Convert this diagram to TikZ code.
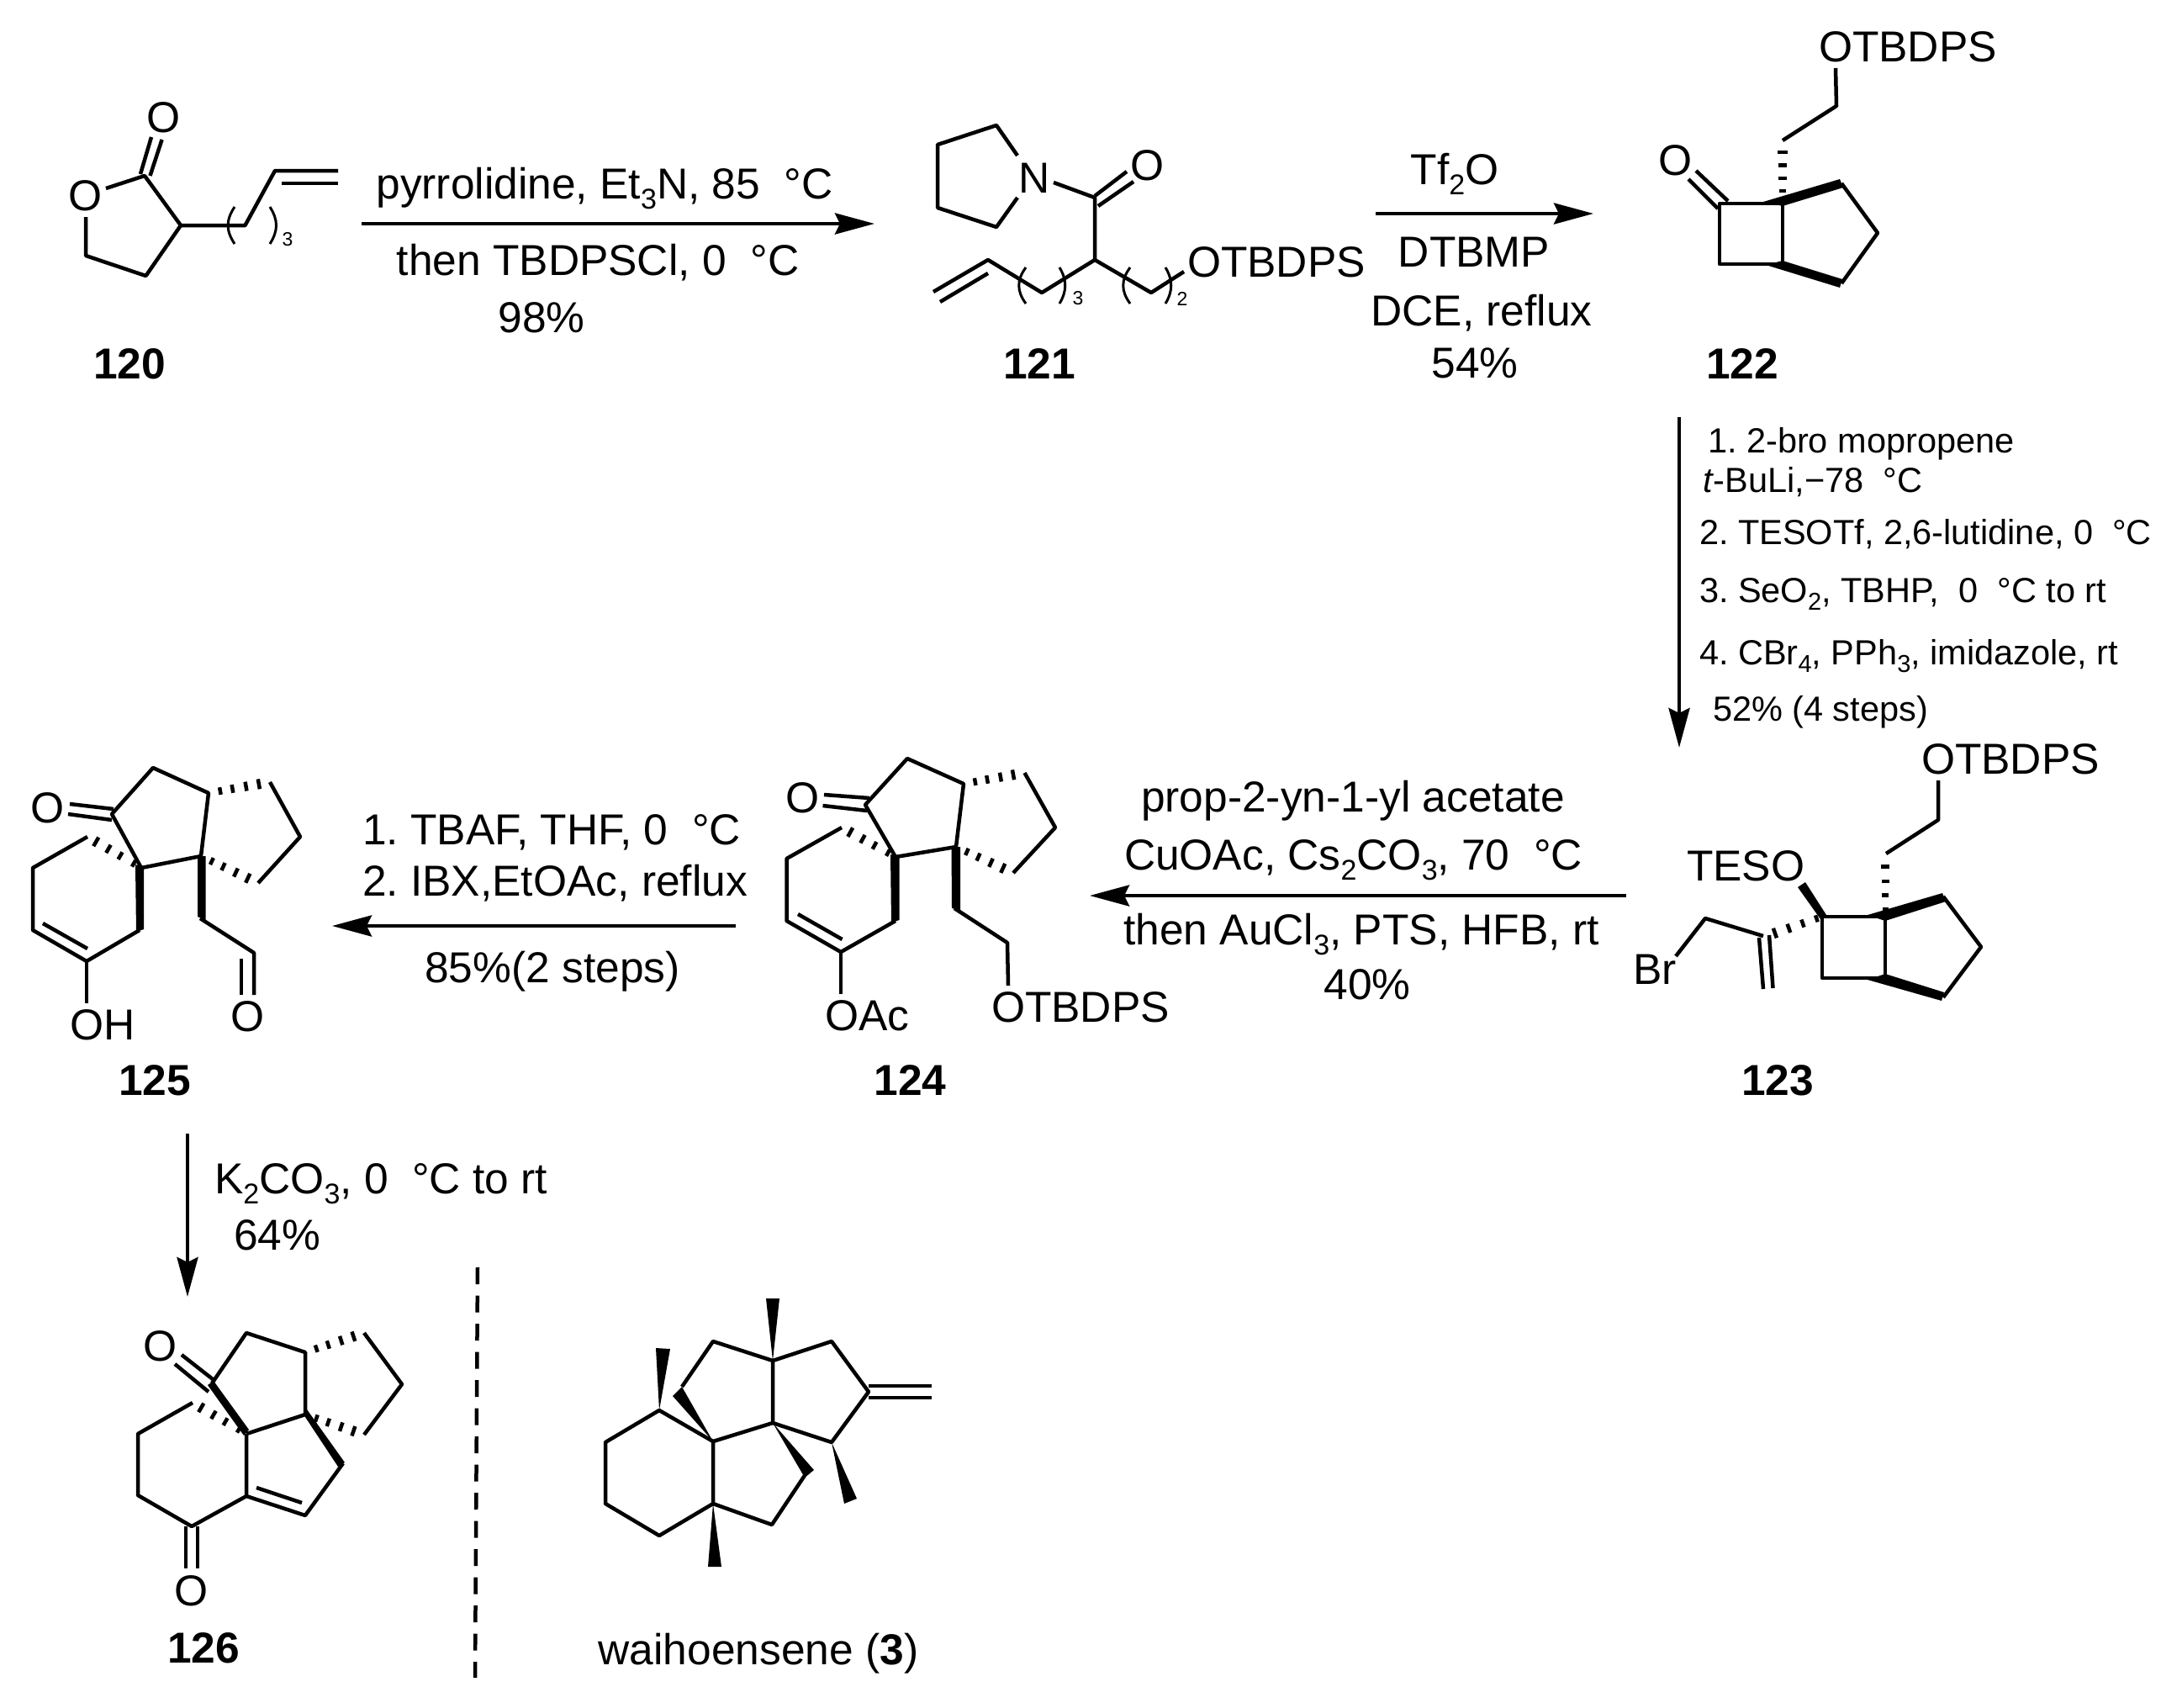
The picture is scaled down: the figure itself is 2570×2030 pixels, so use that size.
\documentclass[tikz,border=0pt]{standalone}
\usepackage{fontspec}
\setmainfont{Liberation Sans}
\usetikzlibrary{arrows.meta}
\frenchspacing
\newcommand{\sba}[1]{\raisebox{-12pt}{\fontsize{34}{34}\selectfont #1}}
\newcommand{\sbb}[1]{\raisebox{-9pt}{\fontsize{29}{29}\selectfont #1}}
% hashed bond: narrow end x1 y1, wide end x2 y2, half width, fractions
\newcommand{\hashbond}[6]{%
  \foreach \f in {#6}{%
    \pgfmathsetmacro\hdx{#3-#1}%
    \pgfmathsetmacro\hdy{#4-#2}%
    \pgfmathsetmacro\hlen{veclen(\hdx,\hdy)}%
    \pgfmathsetmacro\hpx{#1+\f*\hdx}%
    \pgfmathsetmacro\hpy{#2+\f*\hdy}%
    \pgfmathsetmacro\hw{#5*(0.6+0.4*\f)}%
    \pgfmathsetmacro\hnx{-\hdy/\hlen*\hw}%
    \pgfmathsetmacro\hny{\hdx/\hlen*\hw}%
    \draw[hashline] (\hpx+\hnx,\hpy+\hny) -- (\hpx-\hnx,\hpy-\hny);
  }%
}
\tikzset{
  bond/.style={line width=4.5pt,line join=round,draw=black},
  thin bond/.style={line width=3pt,draw=black},
  hashline/.style={line width=4.5pt,draw=black},
  wedgebond/.style={fill=black,draw=none},
  rxn/.style={line width=4.5pt,draw=black,-{Stealth[length=47pt,width=25pt,inset=6pt]}},
  txt/.style={inner sep=0pt,outer sep=0pt,anchor=base,font=\fontsize{51.5}{60}\selectfont},
  txtl/.style={txt,anchor=base west},
  atom/.style={inner sep=0pt,outer sep=0pt,anchor=center,font=\fontsize{51.5}{60}\selectfont},
  small/.style={inner sep=0pt,outer sep=0pt,anchor=center,font=\fontsize{23}{26}\selectfont},
  step text/.style={inner sep=0pt,outer sep=0pt,anchor=base west,font=\fontsize{41.5}{50}\selectfont},
  cmpd/.style={txt,font=\fontsize{51.5}{60}\selectfont\bfseries},
}
\begin{document}
\begin{tikzpicture}[x=1pt,y=-1pt]
\useasboundingbox (0,0) rectangle (2570,2030);
\fill[white] (0,0) rectangle (2570,2030);

% ---------- 120
\node[atom] (o120a) at (102,233) {O};
\node[atom] (o120b) at (194.5,140) {O};
\draw[bond] (126,224) -- (172,209) -- (215,268) -- (173.5,328) -- (102,304) -- (102,258);
\draw[bond] (167,207) -- (180,163);
\draw[bond] (178.5,209) -- (192.6,166);
\draw[bond] (215,268) -- (291.5,268) -- (327,203) -- (402,203);
\draw[bond] (335,218) -- (402,218);
\draw[thin bond] (279,246) .. controls (268.5,262) and (268.5,274) .. (279,290);
\draw[thin bond] (321,246) .. controls (331,262) and (331,274) .. (321,290);
\node[small] (s120) at (342,285) {3};
\node[cmpd] (c120) at (154,450) {120};

% ---------- 121
\node[atom] (n121) at (1230,212) {N};
\node[atom] (o121) at (1365,197) {O};
\draw[bond] (1210,185) -- (1185,149) -- (1115,172) -- (1115,247) -- (1185,270) -- (1210,235);
\draw[bond] (1253,217) -- (1302,235) -- (1302,309);
\draw[bond] (1302,233) -- (1340,204);
\draw[bond] (1306,245) -- (1348,216);
\draw[bond] (1110,347) -- (1175,309) -- (1239,348) -- (1302,309) -- (1369,348) -- (1408,323);
\draw[bond] (1118,359) -- (1175,325);
\draw[thin bond] (1220,318) .. controls (1209,333) and (1209,346) .. (1220,361);
\draw[thin bond] (1260,318) .. controls (1269,333) and (1269,346) .. (1260,361);
\draw[thin bond] (1344,318) .. controls (1333,333) and (1333,346) .. (1344,361);
\draw[thin bond] (1386,318) .. controls (1395,333) and (1395,346) .. (1386,361);
\node[small] (s121a) at (1282,355) {3};
\node[small] (s121b) at (1406,355) {2};
\node[txtl] (r121) at (1412,329) {OTBDPS};
\node[cmpd] (c121) at (1236,450) {121};

% ---------- 122
\node[txtl] (r122) at (2163,73) {OTBDPS};
\node[atom] (o122) at (1993,191) {O};
\draw[bond] (2183,81) -- (2184,126) -- (2120,167);
\hashbond{2120}{233}{2120}{167}{6.5}{0.09,0.32,0.55,0.79}
\draw[bond] (2120,242) -- (2045,242) -- (2045,314) -- (2120,314) -- cycle;
\fill[wedgebond] (2097,240) -- (2188,213) -- (2192,223) -- (2120,245) -- cycle;
\fill[wedgebond] (2100,315) -- (2120,310) -- (2191,332) -- (2188,342) -- cycle;
\draw[bond] (2190,218) -- (2233,277) -- (2190,337);
\draw[bond] (2017,203) -- (2055,239);
\draw[bond] (2008,213) -- (2043,248);
\node[cmpd] (c122) at (2072,450) {122};

% ---------- 123
\node[txtl] (r123) at (2285,920) {OTBDPS};
\node[txtl] (teso) at (2006,1047) {TESO};
\node[txtl] (br) at (1942,1170) {Br};
\draw[bond] (2305,928) -- (2305,975) -- (2243,1015);
\hashbond{2242}{1088}{2242}{1015}{5.5}{0.09,0.32,0.55,0.79}
\draw[bond] (2242,1090) -- (2167,1090) -- (2167,1163) -- (2242,1163) -- cycle;
\fill[wedgebond] (2221,1088) -- (2310,1062) -- (2314,1072) -- (2242,1095) -- cycle;
\fill[wedgebond] (2221,1165) -- (2242,1158) -- (2312,1180) -- (2309,1190) -- cycle;
\draw[bond] (2311,1066) -- (2356,1126) -- (2311,1186);
\fill[wedgebond] (2138,1055) -- (2147,1049) -- (2172,1088) -- (2165,1093) -- cycle;
\hashbond{2167}{1090}{2101}{1113}{6.5}{0.1,0.35,0.6,0.85}
\draw[bond] (1993,1137) -- (2028,1092) -- (2097,1113);
\draw[bond] (2092,1115) -- (2097,1176);
\draw[bond] (2104,1112) -- (2108.5,1175);
\node[cmpd] (c123) at (2114,1302) {123};

% ---------- 124
\node[atom] (o124) at (954.4,949) {O};
\node[txtl] (oac) at (981,1225) {OAc};
\node[txtl] (r124) at (1179,1215) {OTBDPS};
\draw[bond] (980,945) -- (1034,949);
\draw[bond] (978.5,958) -- (1031,964);
\draw[bond] (1065,1019) -- (1029,957) -- (1079,902) -- (1146,932) -- (1137,1007) -- cycle;
\draw[bond] (1218.5,919) -- (1255,984) -- (1205,1038);
\hashbond{1146}{932}{1218}{919}{6.5}{0.19,0.39,0.61,0.82}
\hashbond{1137}{1007}{1205}{1038}{6.5}{0.19,0.39,0.61,0.82}
\fill[wedgebond] (1059,1016) -- (1069.5,1020) -- (1069.5,1094) -- (1060,1097) -- cycle;
\draw[bond] (1065,1095) -- (1000,1132) -- (935.5,1095) -- (935.5,1021) -- (1001,984);
\hashbond{1065}{1019}{1001}{984}{6.5}{0.14,0.39,0.61,0.84}
\draw[bond] (949,1087) -- (1001.6,1117);
\draw[bond] (1000,1132) -- (1000,1182);
\fill[wedgebond] (1131.5,1007) -- (1142,1007) -- (1142,1082) -- (1132,1080) -- cycle;
\draw[bond] (1135,1080) -- (1198,1121) -- (1199,1172);
\node[cmpd] (c124) at (1082.5,1302) {124};

% ---------- 125
\node[atom] (o125a) at (57,961) {O};
\node[atom] (o125b) at (295,1209) {O};
\node[txtl] (oh) at (83,1236) {OH};
\draw[bond] (83,956) -- (135,962);
\draw[bond] (81,968) -- (133,975);
\draw[bond] (168,1032) -- (133,968) -- (182,913) -- (248,943) -- (239,1018) -- cycle;
\draw[bond] (321,930) -- (357,995) -- (307,1050);
\hashbond{248}{943}{321}{930}{6.5}{0.19,0.39,0.61,0.82}
\hashbond{239}{1018}{307}{1050}{6.5}{0.19,0.39,0.61,0.82}
\fill[wedgebond] (161,1028) -- (171,1032) -- (171,1105) -- (162,1108) -- cycle;
\draw[bond] (166,1106) -- (103,1143) -- (39,1106) -- (39,1032) -- (104,995);
\hashbond{168}{1032}{104}{995}{6.5}{0.14,0.39,0.61,0.84}
\draw[bond] (51,1098) -- (104,1128);
\draw[bond] (103,1143) -- (103,1193);
\fill[wedgebond] (235,1018) -- (244.5,1018) -- (244.5,1094) -- (235,1090) -- cycle;
\draw[bond] (238,1092) -- (302,1133) -- (302,1183);
\draw[bond] (287,1140) -- (287,1183);
\node[cmpd] (c125) at (184,1302) {125};

% ---------- 126
\node[atom] (o126a) at (191,1601) {O};
\node[atom] (o126b) at (228,1892) {O};
\draw[bond] (216,1611) -- (253,1640);
\draw[bond] (208,1622) -- (248,1655);
\draw[bond] (252,1645) -- (293,1585) -- (363,1608) -- (363,1682) -- (293,1705);
\fill[wedgebond] (247,1647) -- (254,1642) -- (296,1700) -- (290,1707) -- cycle;
\fill[wedgebond] (361,1682) -- (365,1676) -- (410,1739) -- (402,1744) -- cycle;
\draw[bond] (408,1740) -- (363,1802) -- (293,1779) -- (293,1705);
\draw[bond] (305,1769) -- (359,1787);
\draw[bond] (293,1779) -- (228,1815) -- (164,1778) -- (164,1705) -- (229,1668);
\hashbond{293}{1705}{229}{1668}{6.5}{0.14,0.39,0.61,0.84}
\draw[bond] (221,1815) -- (221,1865);
\draw[bond] (235,1815) -- (235,1865);
\draw[bond] (433,1585) -- (478,1646) -- (433,1706);
\hashbond{363}{1608}{433}{1585}{6.5}{0.19,0.39,0.61,0.82}
\hashbond{363}{1682}{433}{1706}{6.5}{0.19,0.39,0.61,0.82}
\node[cmpd] (c126) at (242,1977) {126};

% ---------- waihoensene
\draw[bond] (784,1677) -- (720,1715) -- (720,1788) -- (784,1826) -- (848,1788) -- (848,1714) -- cycle;
\fill[wedgebond] (784,1677) -- (780,1603) -- (797,1604) -- cycle;
\fill[wedgebond] (848,1714) -- (800,1660) -- (811,1649) -- cycle;
\draw[bond] (811,1649) -- (848,1595) -- (919,1618) -- (919,1692) -- (848,1714);
\fill[wedgebond] (919,1618) -- (911,1544) -- (927,1544) -- cycle;
\draw[bond] (919,1618) -- (989,1595) -- (1033,1655) -- (989,1715) -- (919,1692);
\draw[bond] (1033,1648) -- (1108,1648);
\draw[bond] (1033,1662) -- (1108,1662);
\fill[wedgebond] (989,1715) -- (1004,1788) -- (1019,1782) -- cycle;
\fill[wedgebond] (919,1692) -- (957,1757) -- (968,1748) -- cycle;
\draw[bond] (958,1753) -- (918,1813) -- (848,1788);
\fill[wedgebond] (848,1788) -- (842,1863) -- (858,1863) -- cycle;
\node[txt] (wai) at (902,1979) {waihoensene ({\bfseries 3})};

% ---------- arrows
\coordinate (a1s) at (430,266);  \coordinate (a1e) at (1040,266);
\coordinate (a2s) at (1636,254); \coordinate (a2e) at (1895,254);
\coordinate (a3s) at (1997,496); \coordinate (a3e) at (1997,889);
\coordinate (a4s) at (1934,1065);\coordinate (a4e) at (1296,1065);
\coordinate (a5s) at (875,1101); \coordinate (a5e) at (395,1101);
\coordinate (a6s) at (223,1348); \coordinate (a6e) at (223,1542);
\draw[rxn] (a1s) -- (a1e);
\draw[rxn] (a2s) -- (a2e);
\draw[rxn] (a3s) -- (a3e);
\draw[rxn] (a4s) -- (a4e);
\draw[rxn] (a5s) -- (a5e);
\draw[rxn] (a6s) -- (a6e);

% ---------- reagents
\node[txt] (t1a) at (719,236) {pyrrolidine, Et\sba{3}N, 85~~°C};
\node[txt] (t1b) at (711,327) {then TBDPSCl, 0~~°C};
\node[txt] (t1c) at (644,395) {98\%};
\node[txt] (t2a) at (1730,219) {Tf\sba{2}O};
\node[txt] (t2b) at (1753,317) {DTBMP};
\node[txt] (t2c) at (1762,387) {DCE, reflux};
\node[txt] (t2d) at (1754,449) {54\%};
\node[step text] (t3a) at (2031,538) {1. 2-bro mopropene};
\node[step text] (t3b) at (2025,585) {\textit{t}-BuLi,−78~~°C};
\node[step text] (t3c) at (2021,647) {2. TESOTf, 2,6-lutidine, 0~~°C};
\node[step text] (t3d) at (2021,716) {3. SeO\sbb{2}, TBHP,~~0~~°C to rt};
\node[step text] (t3e) at (2021,790) {4. CBr\sbb{4}, PPh\sbb{3}, imidazole, rt};
\node[step text] (t3f) at (2037,857) {52\% (4 steps)};
\node[txt] (t4a) at (1609,965) {prop-2-yn-1-yl acetate};
\node[txt] (t4b) at (1609.5,1034) {CuOAc, Cs\sba{2}CO\sba{3}, 70~~°C};
\node[txt] (t4c) at (1619,1123) {then AuCl\sba{3}, PTS, HFB, rt};
\node[txt] (t4d) at (1626,1188) {40\%};
\node[txtl] (t5a) at (431,1004) {1. TBAF, THF, 0~~°C};
\node[txtl] (t5b) at (431,1065) {2. IBX,EtOAc, reflux};
\node[txt] (t5c) at (657,1168) {85\%(2 steps)};
\node[txtl] (t6a) at (255,1419) {K\sba{2}CO\sba{3}, 0~~°C to rt};
\node[txtl] (t6b) at (278,1486) {64\%};

% ---------- divider
\coordinate (ds) at (568,1507); \coordinate (de) at (565,1995);
\draw[line width=4.5pt,dash pattern=on 20pt off 13.5pt] (ds) -- (de);
\end{tikzpicture}
\end{document}
